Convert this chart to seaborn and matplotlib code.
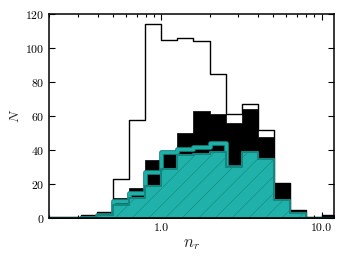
import numpy as np
import matplotlib
matplotlib.use("Agg")
import matplotlib.pyplot as plt
import matplotlib.patheffects as pe
from matplotlib.ticker import FixedLocator, FixedFormatter, LogLocator, NullFormatter
import seaborn as sns

# bin centres in log10(n_r), bins are 0.1 dex wide
log_centres = [-0.65, -0.55, -0.45, -0.35, -0.25, -0.15, -0.05, 0.05, 0.15,
               0.25, 0.35, 0.45, 0.55, 0.65, 0.75, 0.85, 0.95, 1.05]
n_r = 10 ** np.array(log_centres)

all_counts = [1, 1, 2, 4, 23, 58, 114, 105, 106, 104, 85, 61, 67, 52, 21, 5, 1, 2]
black_counts = [0, 0, 1, 3, 12, 18, 34, 39, 50, 63, 61, 56, 64, 48, 21, 5, 1, 2]
teal_counts = [0, 0, 1, 2, 8, 12, 19, 29, 37, 38, 39, 30, 39, 35, 11, 3, 0, 0]

# teal step line, only drawn over -0.4 .. 0.5 dex
line_centres = [-0.35, -0.25, -0.15, -0.05, 0.05, 0.15, 0.25, 0.35, 0.45]
teal_line = [2, 10, 15, 27, 39, 41, 42, 44, 30]
n_r_line = 10 ** np.array(line_centres)

x_ticks = [1.0, 10.0]
x_ticklabels = ["1.0", "10.0"]
y_ticks = [0, 20, 40, 60, 80, 100, 120]

sns.set_style("ticks")
plt.rcParams["font.family"] = "serif"
plt.rcParams["font.serif"] = ["cmr10", "DejaVu Serif"]
plt.rcParams["mathtext.fontset"] = "cm"
plt.rcParams["axes.formatter.use_mathtext"] = True
plt.rcParams["axes.unicode_minus"] = False
plt.rcParams["hatch.linewidth"] = 0.4

teal = "#20b2aa"
dark_teal = "#15867f"

fig = plt.figure(figsize=(3.43, 2.64), dpi=100)
ax = fig.add_axes([0.144, 0.173, 0.831, 0.774])

kw = dict(bins=18, binrange=(-0.7, 1.1), log_scale=True, element="step", ax=ax)

# full sample outline
sns.histplot(x=n_r, weights=all_counts, fill=False, color="black",
             linewidth=1.0, zorder=1, **kw)
# black subsample
sns.histplot(x=n_r, weights=black_counts, fill=True, color="black",
             alpha=1, linewidth=0.5, zorder=2, **kw)
# teal step line
sns.histplot(x=n_r_line, weights=teal_line, bins=9, binrange=(-0.4, 0.5),
             log_scale=True, element="step", ax=ax, fill=False, color=teal,
             linewidth=2.0, zorder=3,
             path_effects=[pe.Stroke(linewidth=3.4, foreground=dark_teal), pe.Normal()])
# teal hatched subsample
sns.histplot(x=n_r, weights=teal_counts, fill=True, facecolor=teal,
             edgecolor=dark_teal, alpha=1, linewidth=1.5, hatch="//", zorder=4, **kw)

ax.set_xlim(0.2, 12.0)
ax.set_ylim(0, 120)
ax.xaxis.set_major_locator(FixedLocator(x_ticks))
ax.xaxis.set_major_formatter(FixedFormatter(x_ticklabels))
ax.xaxis.set_minor_locator(LogLocator(base=10, subs=np.arange(2, 10)))
ax.xaxis.set_minor_formatter(NullFormatter())
ax.set_yticks(y_ticks)

ax.tick_params(which="both", direction="in", top=True, right=True,
               labelsize=8.5, width=0.8, colors="black")
ax.tick_params(which="major", length=4)
ax.tick_params(which="minor", length=2)
ax.tick_params(axis="y", which="minor", left=False, right=False)
for s in ax.spines.values():
    s.set_linewidth(1.1)
    s.set_color("black")
    s.set_zorder(10)

ax.set_xlabel(r"$n_r$", fontsize=12, labelpad=3)
ax.set_ylabel(r"$N$", fontsize=10, labelpad=2)

fig.savefig("out.png", dpi=100)
